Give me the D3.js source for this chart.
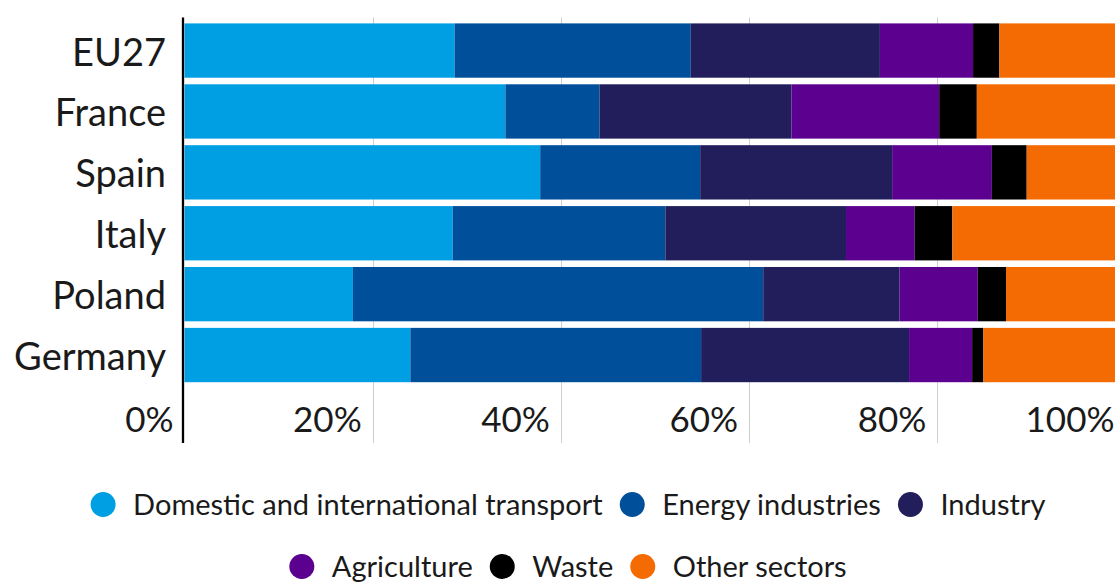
<!DOCTYPE html>
<html>
<head>
<meta charset="utf-8">
<script src="https://cdn.jsdelivr.net/npm/d3@7"></script>
<style>
  html, body { margin: 0; padding: 0; background: #fff; }
  svg { display: block; font-family: Lato, "Noto Sans", sans-serif; }
  .grid line { stroke: #cfcfcf; stroke-width: 1; }
  .ylabel, .xlabel, .legend text { fill: #1a1a1a; }
</style>
</head>
<body>
<div id="chart"></div>
<script>
'use strict'

// data (share of emissions by sector, %)
const countries = ['EU27', 'France', 'Spain', 'Italy', 'Poland', 'Germany']
const sectors = ['Domestic and international transport', 'Energy industries', 'Industry', 'Agriculture', 'Waste', 'Other sectors']
const transport = [28.7, 34.1, 37.8, 28.5, 17.9, 24.0]
const energy = [25.1, 10.0, 17.0, 22.6, 43.6, 30.9]
const industry = [20.1, 20.4, 20.4, 19.2, 14.5, 22.1]
const agriculture = [9.9, 15.7, 10.6, 7.3, 8.3, 6.7]
const waste = [2.8, 4.0, 3.7, 4.0, 3.0, 1.2]
const other = [13.4, 15.8, 10.5, 18.4, 12.7, 15.1]
const xTicks = [0, 20, 40, 60, 80, 100]
const colors = ['#009fe3', '#004f9a', '#221e5b', '#5b008f', '#000000', '#f56b03']

const width = 1115
const height = 583
const series = [transport, energy, industry, agriculture, waste, other]

// build rows for the stack
const rows = countries.map((c, i) => {
  const r = { country: c }
  sectors.forEach((s, j) => { r[s] = series[j][i] })
  return r
})

const svg = d3.select('#chart')
  .append('svg')
  .attr('width', width)
  .attr('height', height)

const x = d3.scaleLinear().domain([0, 100]).range([184.5, 1125.5])
const y = d3.scaleBand().domain(countries).range([23.4, 382.2]).paddingInner(0.108)

// vertical grid lines
svg.append('g')
  .attr('class', 'grid')
  .selectAll('line')
  .data(xTicks.slice(1))
  .enter()
  .append('line')
  .attr('x1', d => Math.round(x(d)) + 0.5)
  .attr('x2', d => Math.round(x(d)) + 0.5)
  .attr('y1', 17.5)
  .attr('y2', 443)

// stacked bars
const stacked = d3.stack().keys(sectors)(rows)
svg.append('g')
  .attr('class', 'bars')
  .selectAll('g')
  .data(stacked)
  .enter()
  .append('g')
  .attr('fill', (d, i) => colors[i])
  .selectAll('rect')
  .data(d => d)
  .enter()
  .append('rect')
  .attr('x', d => x(d[0]))
  .attr('width', d => x(d[1]) - x(d[0]))
  .attr('y', d => y(d.data.country))
  .attr('height', y.bandwidth())

// left axis line
svg.append('line')
  .attr('x1', 183)
  .attr('x2', 183)
  .attr('y1', 17.5)
  .attr('y2', 443)
  .attr('stroke', '#000')
  .attr('stroke-width', 2.3)

// country labels
svg.append('g')
  .selectAll('text')
  .data(countries)
  .enter()
  .append('text')
  .attr('class', 'ylabel')
  .attr('x', 166)
  .attr('y', d => y(d) + y.bandwidth() / 2 + 15)
  .attr('text-anchor', 'end')
  .style('font-size', '38px')
  .text(d => d)

// percent labels
svg.append('g')
  .selectAll('text')
  .data(xTicks)
  .enter()
  .append('text')
  .attr('class', 'xlabel')
  .attr('x', d => x(d) - 11)
  .attr('y', 431.5)
  .attr('text-anchor', 'end')
  .style('font-size', '35px')
  .text(d => d + '%')

// legend, two centred rows
const legendRows = [[0, 1, 2], [3, 4, 5]]
const legendY = [504.5, 566.5]
const legend = svg.append('g').attr('class', 'legend')

legendRows.forEach((idx, r) => {
  const row = legend.append('g')
  let cx = 0
  idx.forEach(i => {
    const item = row.append('g').attr('transform', `translate(${cx},0)`)
    item.append('circle')
      .attr('r', 12.5)
      .attr('fill', colors[i])
    const t = item.append('text')
      .attr('x', 30)
      .attr('y', 10)
      .style('font-size', '29px')
      .text(sectors[i])
    cx += 30 + t.node().getComputedTextLength() + 29.5
  })
  const total = cx - 29.5 + 12.5
  row.attr('transform', `translate(${568 - total / 2 + 12.5},${legendY[r]})`)
})
</script>
</body>
</html>
